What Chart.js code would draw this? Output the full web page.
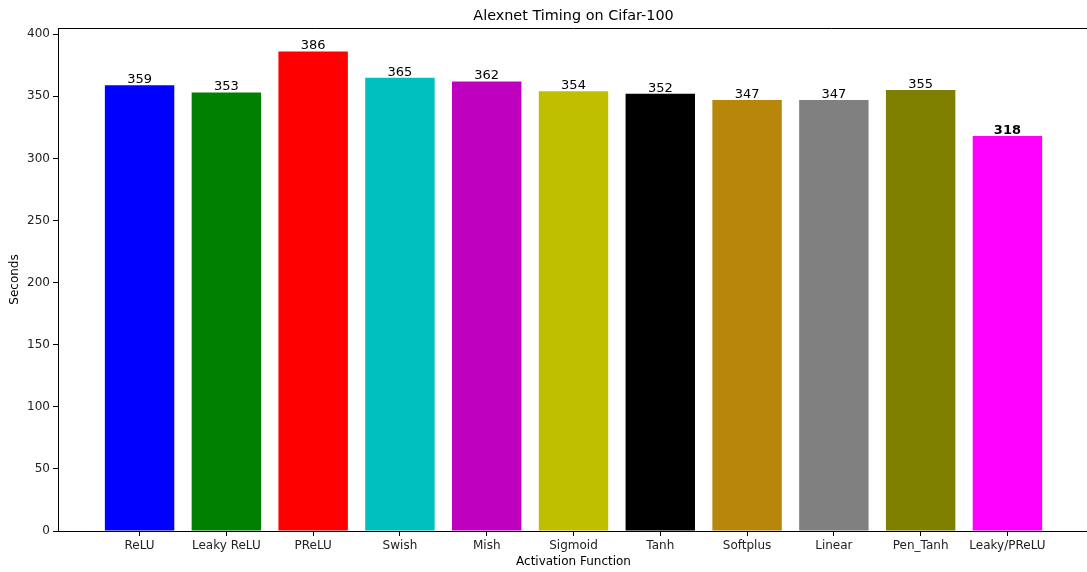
<!DOCTYPE html>
<html>
<head>
<meta charset="utf-8">
<script src="https://cdn.jsdelivr.net/npm/chart.js@4/dist/chart.umd.min.js"></script>
<style>
  html, body { margin: 0; padding: 0; background: #fff; overflow: hidden; }
  #wrap { width: 1089px; height: 572px; }
</style>
</head>
<body>
<div id="wrap"><canvas id="timing"></canvas></div>
<script>
// activation functions and their training time (seconds)
const activations = ['ReLU', 'Leaky ReLU', 'PReLU', 'Swish', 'Mish', 'Sigmoid', 'Tanh', 'Softplus', 'Linear', 'Pen_Tanh', 'Leaky/PReLU'];
const seconds = [359, 353, 386, 365, 362, 354, 352, 347, 347, 355, 318];
const barColors = ['#0000ff', '#008000', '#ff0000', '#00bfbf', '#bf00bf', '#bfbf00', '#000000', '#b8860b', '#808080', '#808000', '#ff00ff'];
const yTicks = [0, 50, 100, 150, 200, 250, 300, 350, 400];
const chartTitle = 'Alexnet Timing on Cifar-100';

const FONT = 'DejaVu Sans';

// value on top of every bar, the best one in bold
const barValues = {
    id: 'barValues',
    afterDatasetsDraw(chart) {
        const ctx = chart.ctx;
        const meta = chart.getDatasetMeta(0);
        const best = Math.min(...seconds);
        ctx.save();
        ctx.fillStyle = '#000';
        ctx.textAlign = 'center';
        ctx.textBaseline = 'bottom';
        meta.data.forEach((bar, i) => {
            ctx.font = (seconds[i] === best ? 'bold ' : '') + '13px "' + FONT + '"';
            ctx.fillText(String(seconds[i]), bar.x, bar.y + 1);
        });
        ctx.restore();
    }
};

// top spine and a title centred over the axes
const frame = {
    id: 'frame',
    afterDraw(chart) {
        const a = chart.chartArea;
        const ctx = chart.ctx;
        ctx.save();
        ctx.strokeStyle = '#000';
        ctx.lineWidth = 1;
        ctx.beginPath();
        ctx.moveTo(a.left, a.top + 0.5);
        ctx.lineTo(a.right, a.top + 0.5);
        ctx.stroke();
        ctx.fillStyle = '#000';
        ctx.font = '14.4px "' + FONT + '"';
        ctx.textAlign = 'center';
        ctx.textBaseline = 'middle';
        ctx.fillText(chartTitle, (a.left + a.right) / 2, 16);
        ctx.restore();
    }
};

const data = {
    datasets: [{
        label: 'Seconds',
        data: seconds.map((v, i) => ({ x: i, y: v })),
        backgroundColor: barColors,
        borderWidth: 0,
        barPercentage: 0.8,
        categoryPercentage: 1.0
    }]
};

const config = {
    type: 'bar',
    data: data,
    options: {
        responsive: true,
        maintainAspectRatio: false,
        animation: false,
        layout: { padding: { top: 28, left: 0, right: 0, bottom: 0 } },
        plugins: {
            legend: { display: false },
            tooltip: { enabled: false },
            title: { display: false }
        },
        scales: {
            x: {
                type: 'linear',
                min: -0.94,
                max: 10.94,
                offset: false,
                afterBuildTicks(scale) {
                    scale.ticks = activations.map((_, i) => ({ value: i }));
                },
                afterFit(scale) { scale.height = 41; },
                ticks: {
                    autoSkip: false,
                    maxRotation: 0,
                    color: '#222',
                    padding: 3,
                    font: { family: FONT, size: 12 },
                    callback: (v) => activations[v]
                },
                grid: { offset: false, drawOnChartArea: false, drawTicks: true, tickLength: 5, color: '#000' },
                border: { display: true, color: '#000', width: 1 },
                title: {
                    display: true,
                    text: 'Activation Function',
                    color: '#000',
                    font: { family: FONT, size: 12 },
                    padding: { top: 0, bottom: 3 }
                }
            },
            y: {
                min: 0,
                max: 405,
                afterBuildTicks(scale) {
                    scale.ticks = yTicks.map(v => ({ value: v }));
                },
                afterFit(scale) { scale.width = 58; },
                ticks: {
                    color: '#222',
                    padding: 3,
                    font: { family: FONT, size: 12 }
                },
                grid: { drawOnChartArea: false, drawTicks: true, tickLength: 5, color: '#000' },
                border: { display: true, color: '#000', width: 1 },
                title: {
                    display: true,
                    text: 'Seconds',
                    color: '#000',
                    font: { family: FONT, size: 12 },
                    padding: { top: 8, bottom: 0 }
                }
            }
        }
    },
    plugins: [barValues, frame]
};

let c = document.getElementById('timing').getContext('2d');
new Chart(c, config);
</script>
</body>
</html>
